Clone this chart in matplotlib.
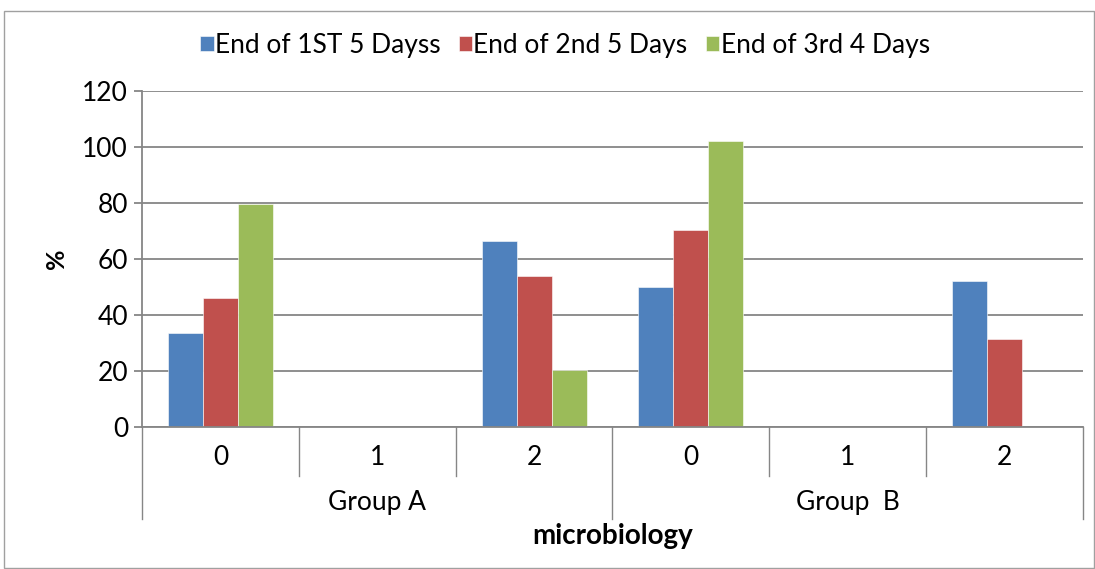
import numpy as np
import matplotlib.pyplot as plt
from matplotlib import rcParams
from matplotlib.patches import Rectangle

rcParams['font.family'] = ['Lato', 'DejaVu Sans']

# data
categories = ['0', '1', '2', '0', '1', '2']
groups = ['Group A', 'Group  B']
series_names = ['End of 1ST 5 Dayss', 'End of 2nd 5 Days', 'End of 3rd 4 Days']
end_1st = [33.6, 0, 66.3, 50, 0, 52]
end_2nd = [46, 0, 54, 70.5, 0, 31.5]
end_3rd = [79.6, 0, 20.4, 102.1, 0, 0]

colours = ['#4F81BD', '#C0504D', '#9BBB59']
grid_c = '#868686'
fs = 19

fig = plt.figure(figsize=(10.95, 5.69), dpi=100)
fig.patches.append(Rectangle((4/1095, 1/569), 1090/1095, 557/569, transform=fig.transFigure,
                             fill=False, edgecolor='#a0a0a0', linewidth=1))

ax = fig.add_axes([142/1095, 142/569, 941/1095, 336/569])

x = np.arange(len(categories))
w = 0.223
for i, vals in enumerate([end_1st, end_2nd, end_3rd]):
    ax.bar(x + (i - 1) * w, vals, width=w, color=colours[i], edgecolor='white',
           linewidth=0.4, label=series_names[i], zorder=3)

ax.set_xlim(-0.5, len(categories) - 0.5)
ax.set_ylim(0, 120)
ax.set_yticks(np.arange(0, 121, 20))
ax.yaxis.grid(True, color=grid_c, linewidth=1.3, zorder=0)
ax.set_axisbelow(True)
for s in ['top', 'right', 'bottom']:
    ax.spines[s].set_visible(False)
ax.spines['left'].set_color(grid_c)
ax.spines['left'].set_linewidth(1.3)
ax.tick_params(axis='y', length=6, width=1.3, color=grid_c, labelsize=fs, pad=4)
ax.set_xticks([])
ax.set_ylabel('%', fontsize=18, fontweight='bold', labelpad=10)

# category axis below the plot
xt = ax.get_xaxis_transform()
ax.plot([-0.5, len(categories) - 0.5], [0, 0], color=grid_c, lw=1.3, transform=xt, clip_on=False, zorder=5)
for b in np.arange(-0.5, len(categories), 1.0):
    depth = -0.275 if b in (-0.5, 2.5, 5.5) else -0.145
    ax.plot([b, b], [0, depth], color=grid_c, lw=1.0, transform=xt, clip_on=False)
for xi, c in zip(x, categories):
    ax.text(xi, -0.09, c, transform=xt, ha='center', va='center', fontsize=fs)
for gi, g in enumerate(groups):
    ax.text(gi * 3 + 1, -0.225, g, transform=xt, ha='center', va='center', fontsize=fs)
ax.text(2.5, -0.325, 'microbiology', transform=xt, ha='center', va='center',
        fontsize=20, fontweight='bold')

fig.legend(loc='center', bbox_to_anchor=(565/1095, 1 - 45/569), ncol=3, frameon=False,
           fontsize=fs, handlelength=0.5, handleheight=0.5, handletextpad=0.05,
           columnspacing=0.7)

plt.savefig('out.png', dpi=100)
